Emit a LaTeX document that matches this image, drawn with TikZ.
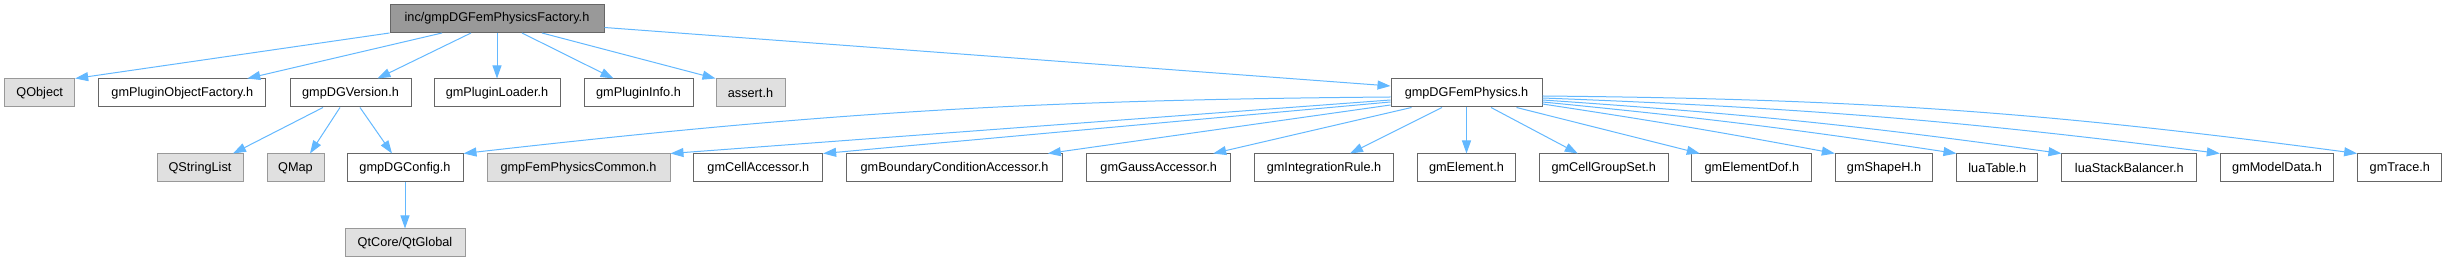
\documentclass[tikz,border=0pt]{standalone}
\usepackage{fontspec}
\setmainfont{Liberation Sans}
\usepackage{tikz}
\usetikzlibrary{arrows.meta}
\definecolor{depblue}{HTML}{63B8FF}
\definecolor{boxline}{HTML}{666666}
\definecolor{sysline}{HTML}{999999}
\definecolor{sysfill}{HTML}{E0E0E0}

\begin{document}
\begin{tikzpicture}[x=1pt, y=1pt,
    hfile/.style={draw=boxline, fill=white, line width=1pt, minimum height=28pt,
                  inner sep=0pt, font=\fontsize{12.7}{15}\selectfont},
    sysfile/.style={hfile, draw=sysline, fill=sysfill},
    rootfile/.style={hfile, fill=sysline},
    dep/.style={draw=depblue, line width=1pt, -{Triangle[length=13pt,width=9pt]}}]
  \useasboundingbox (0,0) rectangle (2447,261);

  % Header being documented
  \node[rootfile, minimum width=214pt] (root) at (497,242.5) {inc/gmpDGFemPhysicsFactory.h};

  % Direct includes
  \node[sysfile, minimum width=70pt]  (qobject)       at (39.7,168)  {QObject};
  \node[hfile, minimum width=167pt]   (pluginfactory) at (182.3,168) {gmPluginObjectFactory.h};
  \node[hfile, minimum width=121pt]   (dgversion)     at (350.5,168) {gmpDGVersion.h};
  \node[hfile, minimum width=126pt]   (pluginloader)  at (497,168)   {gmPluginLoader.h};
  \node[hfile, minimum width=109pt]   (plugininfo)    at (638.5,168) {gmPluginInfo.h};
  \node[sysfile, minimum width=69pt]  (assert)        at (750.5,168) {assert.h};
  \node[hfile, minimum width=151pt]   (femphysics)    at (1466.5,168) {gmpDGFemPhysics.h};

  % Second level
  \node[sysfile, minimum width=86pt]  (qstringlist) at (200,93)    {QStringList};
  \node[sysfile, minimum width=57pt]  (qmap)        at (295.5,93)  {QMap};
  \node[hfile, minimum width=116pt]   (dgconfig)    at (405,93)    {gmpDGConfig.h};
  \node[sysfile, minimum width=183pt] (femcommon)   at (578.5,93)  {gmpFemPhysicsCommon.h};
  \node[hfile, minimum width=128.7pt] (cellacc)     at (758.3,93)  {gmCellAccessor.h};
  \node[hfile, minimum width=215.6pt] (bcacc)       at (954.5,93)  {gmBoundaryConditionAccessor.h};
  \node[hfile, minimum width=144pt]   (gaussacc)    at (1158.7,93) {gmGaussAccessor.h};
  \node[hfile, minimum width=138.6pt] (intrule)     at (1324,93)   {gmIntegrationRule.h};
  \node[hfile, minimum width=98.4pt]  (element)     at (1466.5,93) {gmElement.h};
  \node[hfile, minimum width=129pt]   (cellgroup)   at (1603.8,93) {gmCellGroupSet.h};
  \node[hfile, minimum width=119.7pt] (elementdof)  at (1751.8,93) {gmElementDof.h};
  \node[hfile, minimum width=97.4pt]  (shapeh)      at (1884,93)   {gmShapeH.h};
  \node[hfile, minimum width=80.7pt]  (luatable)    at (1997.3,93) {luaTable.h};
  \node[hfile, minimum width=134.7pt] (luastack)    at (2129.3,93) {luaStackBalancer.h};
  \node[hfile, minimum width=113.4pt] (modeldata)   at (2277,93)   {gmModelData.h};
  \node[hfile, minimum width=84.3pt]  (trace)       at (2399.8,93) {gmTrace.h};

  % Third level
  \node[sysfile, minimum width=120pt] (qtglobal) at (405,18) {QtCore/QtGlobal};

  % Edges from the root
  \draw[dep] (root.south west) -- (qobject.north east);
  \draw[dep] ([xshift=-55pt]root.south) -- ([xshift=65pt]pluginfactory.north);
  \draw[dep] ([xshift=-26pt]root.south) -- ([xshift=27pt]dgversion.north);
  \draw[dep] (root.south) -- (pluginloader.north);
  \draw[dep] ([xshift=25pt]root.south) -- ([xshift=-25pt]plugininfo.north);
  \draw[dep] ([xshift=45pt]root.south) -- (assert.north west);
  \draw[dep] ([yshift=-9pt]root.east) -- ([yshift=7pt]femphysics.west);

  % Edges from gmpDGVersion.h
  \draw[dep] ([xshift=-27.5pt]dgversion.south) -- ([xshift=33pt]qstringlist.north);
  \draw[dep] ([xshift=-10.5pt]dgversion.south) -- ([xshift=14.5pt]qmap.north);
  \draw[dep] ([xshift=9.5pt]dgversion.south) -- ([xshift=-13pt]dgconfig.north);
  \draw[dep] (dgconfig.south) -- (qtglobal.north);

  % Edges from gmpDGFemPhysics.h
  \draw[dep] ([yshift=-4pt]femphysics.west) to[bend right=3] (dgconfig.north east);
  \draw[dep] ([yshift=-7pt]femphysics.west) -- (femcommon.north east);
  \draw[dep] ([yshift=-9pt]femphysics.west) -- (cellacc.north east);
  \draw[dep] ([yshift=-12pt]femphysics.west) -- ([xshift=-15pt]bcacc.north east);
  \draw[dep] ([xshift=-55pt]femphysics.south) -- ([xshift=-18pt]gaussacc.north east);
  \draw[dep] ([xshift=-24.5pt]femphysics.south) -- ([xshift=26pt]intrule.north);
  \draw[dep] (femphysics.south) -- (element.north);
  \draw[dep] ([xshift=24.5pt]femphysics.south) -- ([xshift=-26pt]cellgroup.north);
  \draw[dep] ([xshift=50pt]femphysics.south) -- ([xshift=-52pt]elementdof.north);
  \draw[dep] ([yshift=-11pt]femphysics.east) to[bend left=1] (shapeh.north west);
  \draw[dep] ([yshift=-9pt]femphysics.east) to[bend left=1.5] (luatable.north west);
  \draw[dep] ([yshift=-7pt]femphysics.east) to[bend left=2] (luastack.north west);
  \draw[dep] ([yshift=-5pt]femphysics.east) to[bend left=2.5] (modeldata.north west);
  \draw[dep] ([yshift=-3pt]femphysics.east) to[bend left=3.5] (trace.north west);
\end{tikzpicture}
\end{document}
